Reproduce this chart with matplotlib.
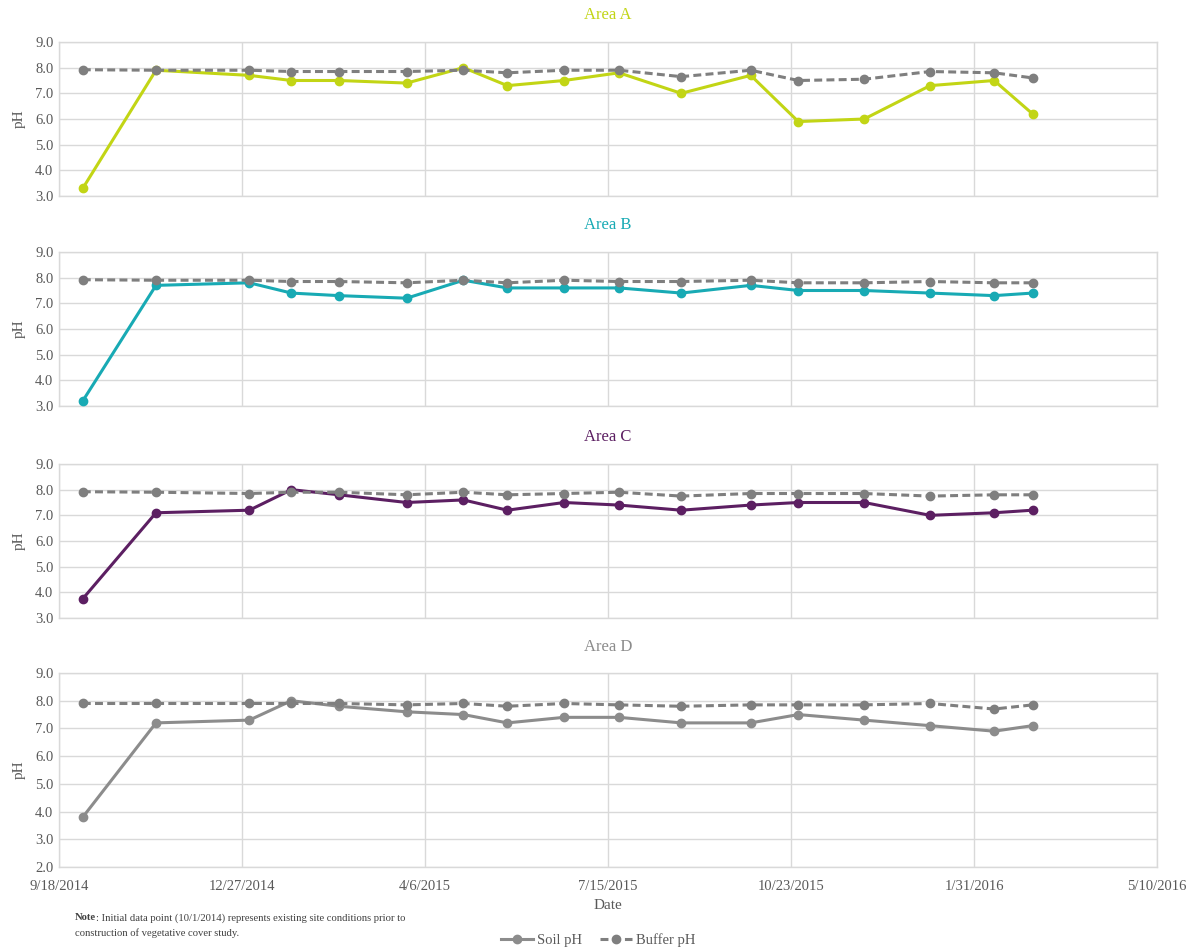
import matplotlib
matplotlib.use("Agg")
import matplotlib.pyplot as plt
import matplotlib.dates as mdates
from matplotlib.lines import Line2D
from datetime import datetime, timedelta

# ---- data ----
dates = ["2014-10-01", "2014-11-10", "2014-12-31", "2015-01-23", "2015-02-18",
         "2015-03-27", "2015-04-27", "2015-05-21", "2015-06-21", "2015-07-21",
         "2015-08-24", "2015-10-01", "2015-10-27", "2015-12-02", "2016-01-07",
         "2016-02-11", "2016-03-03"]

area_names = ["Area A", "Area B", "Area C", "Area D"]

soil_a = [3.3, 7.9, 7.7, 7.5, 7.5, 7.4, 8.0, 7.3, 7.5, 7.8, 7.0, 7.7, 5.9, 6.0, 7.3, 7.5, 6.2]
buffer_a = [7.92, 7.9, 7.9, 7.85, 7.85, 7.85, 7.9, 7.8, 7.9, 7.9, 7.65, 7.9, 7.5, 7.55, 7.85, 7.8, 7.6]

soil_b = [3.2, 7.7, 7.8, 7.4, 7.3, 7.2, 7.9, 7.6, 7.6, 7.6, 7.4, 7.7, 7.5, 7.5, 7.4, 7.3, 7.4]
buffer_b = [7.92, 7.9, 7.9, 7.85, 7.85, 7.8, 7.9, 7.8, 7.9, 7.85, 7.85, 7.9, 7.8, 7.8, 7.85, 7.8, 7.8]

soil_c = [3.75, 7.1, 7.2, 8.0, 7.8, 7.5, 7.6, 7.2, 7.5, 7.4, 7.2, 7.4, 7.5, 7.5, 7.0, 7.1, 7.2]
buffer_c = [7.92, 7.9, 7.85, 7.9, 7.9, 7.8, 7.9, 7.8, 7.85, 7.9, 7.75, 7.85, 7.85, 7.85, 7.75, 7.8, 7.8]

soil_d = [3.8, 7.2, 7.3, 8.0, 7.8, 7.6, 7.5, 7.2, 7.4, 7.4, 7.2, 7.2, 7.5, 7.3, 7.1, 6.9, 7.1]
buffer_d = [7.9, 7.9, 7.9, 7.9, 7.9, 7.85, 7.9, 7.8, 7.9, 7.85, 7.8, 7.85, 7.85, 7.85, 7.9, 7.7, 7.85]

soil_series = [soil_a, soil_b, soil_c, soil_d]
buffer_series = [buffer_a, buffer_b, buffer_c, buffer_d]
soil_colors = ["#C2D515", "#18AAB4", "#5C1F62", "#8C8C8C"]
buffer_color = "#7F7F7F"

x_start = datetime(2014, 9, 18)
x_end = datetime(2016, 5, 10)
tick_step_days = 100

# ---- figure ----
plt.rcParams["font.family"] = ["Liberation Serif", "DejaVu Serif"]
fig = plt.figure(figsize=(11.86, 9.48), dpi=100)

W, H = 1186.0, 948.0
left = 59 / W
width = (1157 - 59) / W
boxes = [(42, 196), (252, 406), (464, 618), (673, 867)]
ylims = [(3, 9), (3, 9), (3, 9), (2, 9)]
title_y = [15, 225, 437, 647]

xd = [datetime.strptime(d, "%Y-%m-%d") for d in dates]
ticks = []
t = x_start
while t <= x_end:
    ticks.append(t)
    t = t + timedelta(days=tick_step_days)

grid_c = "#D9D9D9"
txt_c = "#595959"

for i in range(4):
    top, bot = boxes[i]
    ax = fig.add_axes([left, 1 - bot / H, width, (bot - top) / H])
    ax.set_xlim(x_start, x_end)
    ax.set_ylim(*ylims[i])
    ax.set_yticks(range(ylims[i][0], ylims[i][1] + 1))
    ax.set_yticklabels([f"{v:.1f}" for v in range(ylims[i][0], ylims[i][1] + 1)])
    ax.set_xticks(ticks)
    ax.grid(True, color=grid_c, linewidth=1.0)
    ax.set_axisbelow(True)
    for s in ax.spines.values():
        s.set_color(grid_c)
        s.set_linewidth(1.0)
    ax.tick_params(length=0, labelsize=10.5, labelcolor=txt_c, pad=4)
    ax.set_ylabel("pH", fontsize=11, color=txt_c, labelpad=7)
    if i < 3:
        ax.set_xticklabels([])
    else:
        ax.set_xticklabels([f"{d.month}/{d.day}/{d.year}" for d in ticks])
        ax.tick_params(axis="x", pad=9)
        ax.set_xlabel("Date", fontsize=11, color=txt_c, labelpad=5)

    ax.plot(xd, soil_series[i], color=soil_colors[i], linewidth=2.2,
            marker="o", markersize=6, zorder=3)
    ax.plot(xd, buffer_series[i], color=buffer_color, linewidth=2.2,
            linestyle=(0, (2.6, 1.4)), marker="o", markersize=6, zorder=4)

    fig.text(608 / W, 1 - title_y[i] / H, area_names[i], ha="center", va="center",
             fontsize=12, color=soil_colors[i])

# ---- note ----
fig.canvas.draw()
renderer = fig.canvas.get_renderer()
note_x = 75 / W
note_fs = 7.7
t1 = fig.text(note_x, 1 - 918 / H, "Note", fontsize=note_fs, fontweight="bold",
              color="#404040", va="center", ha="left")
bb = t1.get_window_extent(renderer=renderer)
fig.text(bb.x1 / fig.bbox.width, 1 - 918 / H,
         ": Initial data point (10/1/2014) represents existing site conditions prior to",
         fontsize=note_fs, color="#404040", va="center", ha="left")
fig.text(note_x, 1 - 933 / H, "construction of vegetative cover study.",
         fontsize=note_fs, color="#404040", va="center", ha="left")

# ---- legend ----
handles = [
    Line2D([0], [0], color="#8C8C8C", linewidth=2.2, marker="o", markersize=6),
    Line2D([0], [0], color=buffer_color, linewidth=2.2, linestyle=(0, (2.6, 1.4)),
           marker="o", markersize=6),
]
fig.legend(handles, ["Soil pH", "Buffer pH"], loc="center",
           bbox_to_anchor=(598 / W, 1 - 940 / H), ncol=2, frameon=False,
           fontsize=10.5, handlelength=2.2, handletextpad=0.3, columnspacing=1.2,
           labelcolor=txt_c)

fig.savefig("out.png", dpi=100)
